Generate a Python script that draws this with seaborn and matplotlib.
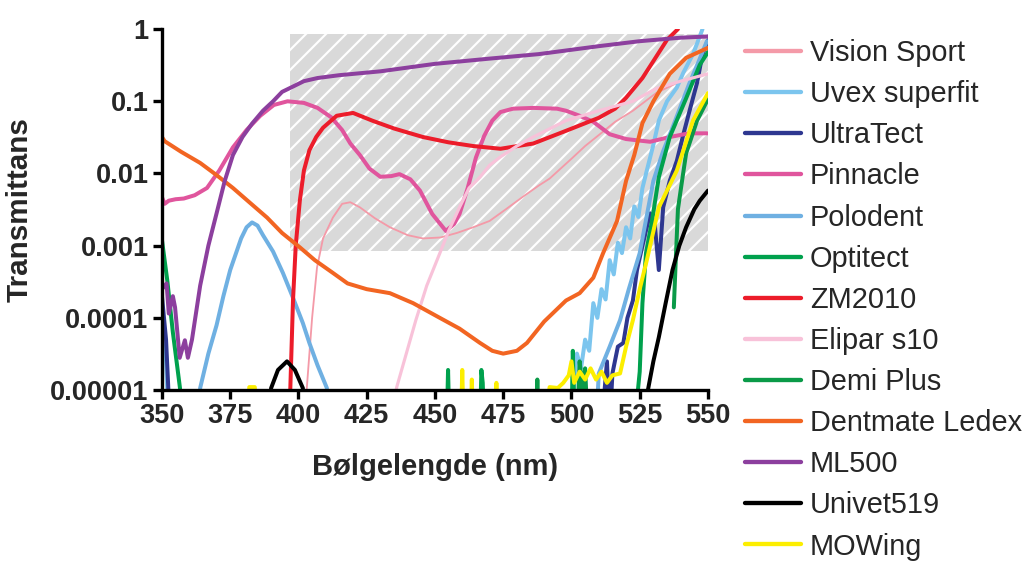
import numpy as np
import pandas as pd
import matplotlib
matplotlib.use("Agg")
import matplotlib.pyplot as plt
from matplotlib.patches import Rectangle
from matplotlib.lines import Line2D
import seaborn as sns

NAN = np.nan
OFF = 3e-6  # below the 0.00001 floor, so the line leaves through the bottom of the axes

# ---------------------------------------------------------
# Data (wavelength in nm, transmittance)
# ---------------------------------------------------------
VISION_SPORT_NM = [402, 403, 405, 406.8, 409, 412.6, 416, 419, 422.5, 428, 433.5, 440, 445.6, 452, 458,
                   464, 470, 476, 482, 488, 492, 500, 505, 510.4, 516, 522.5, 531, 540, 550]
VISION_SPORT_T = [OFF, 1e-5, 1e-4, 5e-4, 1.26e-3, 2.45e-3, 3.8e-3, 4.0e-3, 3.4e-3, 2.4e-3, 1.8e-3, 1.4e-3,
                  1.26e-3, 1.3e-3, 1.5e-3, 1.8e-3, 2.2e-3, 3.2e-3, 4.7e-3, 6.8e-3, 8.5e-3, 1.6e-2, 2.4e-2,
                  3.5e-2, 5.2e-2, 7.4e-2, 0.13, 0.19, 0.24]

UVEX_NM = [350, 351.5, 352.5, NAN, 500, 501, 502, 503.5, 505, 506.5, 508, 509.5, 511, 512.5, 514, 515.5,
           517, 518.5, 520, 521.5, 523, 524.5, 526, 527.6, 530, 532, 535, 538.6, 541, 544.5, 546, 548]
UVEX_T = [5e-5, 2.5e-5, OFF, NAN, OFF, 1.26e-5, 3.2e-5, 2e-5, 5e-5, 3.5e-5, 1.6e-4, 1e-4, 2.5e-4, 1.8e-4,
          6.3e-4, 4e-4, 1.1e-3, 7.9e-4, 1.8e-3, 1.26e-3, 3.5e-3, 2.5e-3, 6.3e-3, 1.1e-2, 2.5e-2, 5.4e-2,
          0.1, 0.155, 0.25, 0.45, 0.63, 1.0]

ULTRATECT_NM = [350, 351.5, 353, NAN, 511, 513, 514, 515, 517, 519, 520.5, 522.5, 524, 526, 528.8, 530.5,
                532, 533.6, 536, 538.6, 541, 543, 546, 548, 550]
ULTRATECT_T = [2e-4, 5e-5, OFF, NAN, OFF, 2.5e-5, OFF, 1.7e-5, 4e-5, 4.5e-5, 1e-4, 1.74e-4, 4.6e-4, 1e-3,
               2.8e-3, 2e-3, 4.6e-4, 3.4e-3, 7.9e-3, 1.5e-2, 3.5e-2, 6.8e-2, 0.18, 0.45, 0.7]

PINNACLE_NM = [350, 351, 352.5, 355, 358, 362, 366.5, 371, 376, 381, 386, 391, 396, 402, 407, 412, 416,
               419, 422.5, 426, 430, 434, 437, 441, 444.5, 449, 454, 457, 459, 462, 465, 468, 471, 474,
               478.6, 486, 494.7, 498, 503, 508, 514, 520, 528.8, 536, 543, 550]
PINNACLE_T = [4.7e-3, 3.8e-3, 4.2e-3, 4.4e-3, 4.5e-3, 5.0e-3, 6.3e-3, 1.1e-2, 2.3e-2, 4.0e-2, 6.3e-2,
              8.9e-2, 0.10, 0.095, 0.081, 0.060, 0.040, 0.026, 0.018, 0.0117, 9.0e-3, 9.2e-3, 9.8e-3,
              8.3e-3, 5.8e-3, 2.75e-3, 1.6e-3, 2.0e-3, 2.75e-3, 6.3e-3, 1.66e-2, 3.3e-2, 5.4e-2, 7.1e-2,
              7.9e-2, 8.1e-2, 7.9e-2, 7.4e-2, 6.3e-2, 5.2e-2, 3.5e-2, 3.0e-2, 2.75e-2, 3.2e-2, 3.6e-2,
              3.6e-2]

POLODENT_NM = [363, 364, 367, 370, 372.5, 375, 379, 381, 383, 385, 387, 390.7, 394.3, 398, 401.6, 404,
               407, 410.4, 411.5, NAN, 509, 510, 514, 517.8, 521, 525, 530, 533.5, 537, 543, 546.5, 549.6]
POLODENT_T = [OFF, 1.07e-5, 3.2e-5, 7.9e-5, 2.0e-4, 4.6e-4, 1.26e-3, 1.8e-3, 2.1e-3, 1.9e-3, 1.4e-3,
              8.3e-4, 4.2e-4, 1.9e-4, 8.5e-5, 4.5e-5, 2.2e-5, 1.07e-5, OFF, NAN, OFF, 1.7e-5, 4e-5,
              9.3e-5, 2.5e-4, 7.9e-4, 7.9e-3, 2.0e-2, 4.3e-2, 0.17, 0.35, 0.68]

OPTITECT_NM = [350, 352, 354, 356.6, 357, NAN, 454.3, 454.8, 455.3, NAN, 466.5, 467, 467.5, 468, NAN,
               500, 500.5, 501.2, NAN, 523, 525, 526, 527.3, 529.5, 532, 536, 542, 547, 550]
OPTITECT_T = [1.2e-3, 3.2e-4, 6.3e-5, 1.07e-5, OFF, NAN, OFF, 1.9e-5, OFF, NAN, OFF, 1.9e-5, 1.26e-5, OFF,
              NAN, OFF, 3.5e-5, OFF, NAN, OFF, 1.8e-5, 1.6e-4, 7.9e-4, 2.2e-3, 8.9e-3, 3.2e-2, 0.11,
              0.32, 0.48]

ZM2010_NM = [396.5, 397, 398, 399, 400.5, 402, 404, 406.5, 409, 414, 420, 427, 435, 445.6, 455, 464, 474,
             486, 498, 510, 516, 520, 526, 530, 535, 539]
ZM2010_T = [OFF, 1e-5, 1.74e-4, 1e-3, 4.2e-3, 1.1e-2, 2.1e-2, 3.2e-2, 4.3e-2, 6.3e-2, 6.9e-2, 5.4e-2,
            4.2e-2, 3.2e-2, 2.7e-2, 2.4e-2, 2.2e-2, 2.6e-2, 3.9e-2, 5.9e-2, 7.9e-2, 0.112, 0.21, 0.36,
            0.71, 1.0]

ELIPAR_NM = [433, 436, 443, 447, 451.8, 455, 459, 462.5, 466.5, 470, 474, 480, 486, 498, 510, 522.5, 531,
             540, 550]
ELIPAR_T = [OFF, 1.1e-5, 9.3e-5, 2.8e-4, 7.9e-4, 1.6e-3, 3.4e-3, 6.3e-3, 8.9e-3, 1.3e-2, 1.7e-2, 2.4e-2,
            3.2e-2, 5.4e-2, 7.4e-2, 0.10, 0.15, 0.19, 0.24]

DEMI_PLUS_NM = [487, 487.5, 488, NAN, 502, 503, 504, 505, 506, NAN, 537.5, 538.2, 539, 540.5, 542, 546, 550]
DEMI_PLUS_T = [OFF, 1.4e-5, OFF, NAN, OFF, 2.5e-5, 1e-5, 2e-5, OFF, NAN, 1.4e-4, 6.3e-4, 3.2e-3, 7.9e-3,
               1.9e-2, 5.4e-2, 0.107]

DENTMATE_NM = [350, 351, 357, 364, 370, 376, 382, 388.5, 394, 400.5, 406, 412.6, 418, 425, 433.5, 442,
               451.8, 459, 466.5, 471, 475, 480, 483.7, 490, 498, 503, 508, 511.6, 516.7, 520, 523, 526,
               530, 536, 542, 550]
DENTMATE_T = [3.2e-2, 2.8e-2, 2.0e-2, 1.4e-2, 9.5e-3, 6.3e-3, 4.0e-3, 2.45e-3, 1.5e-3, 9.5e-4, 6.3e-4,
              4.2e-4, 3.0e-4, 2.5e-4, 2.2e-4, 1.6e-4, 1.0e-4, 7.1e-5, 4.5e-5, 3.5e-5, 3.2e-5, 3.5e-5,
              4.5e-5, 8.9e-5, 1.74e-4, 2.2e-4, 3.6e-4, 7.9e-4, 2.2e-3, 7.9e-3, 1.8e-2, 5.0e-2, 0.10,
              0.24, 0.40, 0.55]

ML500_NM = [350, 351.7, 352.5, 354, 354.8, 356.5, 358.4, 359.5, 361, 364, 367, 370, 373, 376, 379.5, 383,
            387, 390.7, 394, 398, 402, 407, 415, 430, 450, 470, 488, 510, 525, 540, 550]
ML500_T = [2.5e-4, 3.0e-4, 1.15e-4, 2.0e-4, 1.4e-4, 2.8e-5, 4.9e-5, 2.8e-5, 5.0e-5, 2.8e-4, 1.0e-3, 2.8e-3,
           7.9e-3, 1.8e-2, 3.2e-2, 4.9e-2, 7.4e-2, 0.10, 0.135, 0.16, 0.19, 0.21, 0.23, 0.26, 0.33, 0.39,
           0.45, 0.58, 0.68, 0.76, 0.79]

UNIVET_NM = [389, 390, 392.5, 395.8, 398.7, 401.6, 402.5, NAN, 527, 528, 530, 532, 534.5, 537, 539.5, 542,
             545, 547, 550]
UNIVET_T = [OFF, 1.07e-5, 1.9e-5, 2.5e-5, 1.9e-5, 1.07e-5, OFF, NAN, OFF, 1e-5, 2.5e-5, 5.4e-5, 1.6e-4,
            4.6e-4, 1e-3, 1.8e-3, 3.2e-3, 4.2e-3, 5.8e-3]

MOWING_NM = [381, 382, 384, 385, NAN, 459.5, 460, 460.5, NAN, 463, 463.5, 464, NAN, 472, 472.5, 473, NAN,
             490, 492, 495, 497, 499, 500, 501, 503, 505, 507, 509, 511, 513, 515, 517.8, 520, 522.5, 525,
             527.6, 532, 538.6, 544.5, 550]
MOWING_T = [OFF, 1.1e-5, 1.1e-5, OFF, NAN, OFF, 1.9e-5, OFF, NAN, OFF, 1.4e-5, OFF, NAN, OFF, 1.26e-5, OFF,
            NAN, OFF, 1.1e-5, 1.07e-5, 1.26e-5, 1.6e-5, 2.5e-5, 1.26e-5, 1.8e-5, 1.4e-5, 2e-5, 1.4e-5,
            1.8e-5, 1.26e-5, 1.6e-5, 1.7e-5, 4e-5, 9.3e-5, 2.5e-4, 6.3e-4, 3.4e-3, 1.1e-2, 5.4e-2, 0.13]

# name -> (wavelengths, transmittance), in legend order
SERIES = {
    "Vision Sport": (VISION_SPORT_NM, VISION_SPORT_T),
    "Uvex superfit": (UVEX_NM, UVEX_T),
    "UltraTect": (ULTRATECT_NM, ULTRATECT_T),
    "Pinnacle": (PINNACLE_NM, PINNACLE_T),
    "Polodent": (POLODENT_NM, POLODENT_T),
    "Optitect": (OPTITECT_NM, OPTITECT_T),
    "ZM2010": (ZM2010_NM, ZM2010_T),
    "Elipar s10": (ELIPAR_NM, ELIPAR_T),
    "Demi Plus": (DEMI_PLUS_NM, DEMI_PLUS_T),
    "Dentmate Ledex": (DENTMATE_NM, DENTMATE_T),
    "ML500": (ML500_NM, ML500_T),
    "Univet519": (UNIVET_NM, UNIVET_T),
    "MOWing": (MOWING_NM, MOWING_T),
}

COLORS = {
    "Vision Sport": "#f49aa8",
    "Uvex superfit": "#7cc5ee",
    "UltraTect": "#2e3790",
    "Pinnacle": "#e0559d",
    "Polodent": "#6fb0e2",
    "Optitect": "#00a14d",
    "ZM2010": "#ec1c2a",
    "Elipar s10": "#f8c2d9",
    "Demi Plus": "#0a9a48",
    "Dentmate Ledex": "#f26522",
    "ML500": "#8c3f9e",
    "Univet519": "#000000",
    "MOWing": "#fcee00",
}
WIDTHS = {"Vision Sport": 1.1, "Elipar s10": 1.9}
DEFAULT_LW = 2.4

X_TICKS = [350, 375, 400, 425, 450, 475, 500, 525, 550]
Y_TICKS = [1e-5, 1e-4, 1e-3, 1e-2, 1e-1, 1]
Y_TICK_LABELS = ["0.00001", "0.0001", "0.001", "0.01", "0.1", "1"]

# shaded (hatched) band: wavelength range and transmittance range
BAND_NM = (397, 550)
BAND_T = (8.5e-4, 0.85)


def to_segments(nm, t):
    df = pd.DataFrame({"nm": nm, "T": t})
    df["seg"] = df["T"].isna().cumsum()
    return df.dropna()


def make_plot():
    sns.set_theme(style="ticks")
    plt.rcParams["font.family"] = ["Liberation Sans", "DejaVu Sans"]
    plt.rcParams["hatch.linewidth"] = 1.3

    fig = plt.figure(figsize=(1025 / 120, 567 / 120), dpi=120)
    ax = fig.add_axes([0.158, 0.312, 0.5327, 0.6367])
    ax.set_yscale("log")

    band = Rectangle((BAND_NM[0], BAND_T[0]), BAND_NM[1] - BAND_NM[0], BAND_T[1] - BAND_T[0],
                     facecolor="#d9d9d9", edgecolor="white", hatch="//", linewidth=0, zorder=0.5)
    ax.add_patch(band)

    for name, (nm, t) in SERIES.items():
        seg = to_segments(nm, t)
        sns.lineplot(data=seg, x="nm", y="T", units="seg", estimator=None, sort=False,
                     color=COLORS[name], linewidth=WIDTHS.get(name, DEFAULT_LW),
                     legend=False, ax=ax)

    ax.set_xlim(350, 550)
    ax.set_ylim(1e-5, 1)
    ax.set_xticks(X_TICKS)
    ax.set_xticklabels([str(x) for x in X_TICKS])
    ax.set_yticks(Y_TICKS)
    ax.set_yticklabels(Y_TICK_LABELS)
    ax.minorticks_off()
    ax.yaxis.set_minor_locator(matplotlib.ticker.NullLocator())

    sns.despine(ax=ax)
    for side in ["left", "bottom"]:
        ax.spines[side].set_linewidth(2.0)
        ax.spines[side].set_color("black")
    ax.tick_params(axis="both", which="major", direction="out", length=5.5, width=2.0,
                   color="black", pad=2.5, labelsize=16.3)
    for lab in ax.get_xticklabels() + ax.get_yticklabels():
        lab.set_fontweight("bold")

    ax.set_xlabel("Bølgelengde (nm)", fontsize=17.5, fontweight="bold", labelpad=14)
    ax.set_ylabel("Transmittans", fontsize=17.8, fontweight="bold", labelpad=10)

    # legend kept just inside the bottom edge so the last entry stays readable
    handles = [Line2D([0], [0], color=COLORS[n], linewidth=2.6) for n in SERIES]
    ax.legend(handles, list(SERIES.keys()), loc="upper left", bbox_to_anchor=(0.727, 0.931),
              bbox_transform=fig.transFigure, frameon=False, fontsize=17.3, borderpad=0,
              borderaxespad=0, handlelength=1.95, handletextpad=0.3, labelspacing=0.455)

    fig.savefig("out.png", dpi=120)
    plt.close(fig)


if __name__ == "__main__":
    make_plot()
